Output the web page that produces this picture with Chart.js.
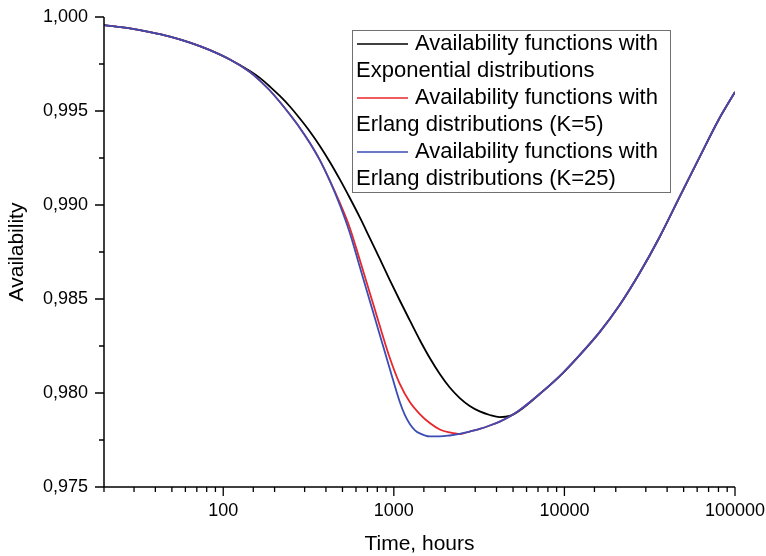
<!DOCTYPE html>
<html><head><meta charset="utf-8">
<script src="https://cdn.jsdelivr.net/npm/chart.js@4/dist/chart.umd.min.js"></script>
<style>html,body{margin:0;padding:0;background:#fff;}</style>
</head><body>
<canvas id="c" width="766" height="556"></canvas>
<script>
// ---- Data ----
const seriesLabels = [
  ['Availability functions with', 'Exponential distributions'],
  ['Availability functions with', 'Erlang distributions (K=5)'],
  ['Availability functions with', 'Erlang distributions (K=25)']
];
const seriesColors = ['#000000', '#e8262b', '#3b4db5'];

const timeExp = [20, 28.4, 37.2, 48.7, 63.8, 83.6, 109.4, 143.3, 164, 187.7, 214.8, 245.9, 281.3, 322, 368.5, 421.7, 482.6, 552.3, 632.1, 723.4, 827.9, 947.5, 1084, 1241, 1420, 1625, 1860, 2128, 2436, 2787, 3190, 3651, 4178, 4782, 5472, 7165, 9384, 12289, 16095, 21083, 27606, 36157, 47356, 62007, 81215, 100000];
const availExp = [0.99957, 0.99939, 0.99920, 0.99896, 0.99864, 0.99824, 0.99774, 0.99713, 0.99676, 0.99630, 0.99580, 0.99524, 0.99460, 0.99391, 0.99314, 0.99229, 0.99136, 0.99037, 0.98934, 0.98824, 0.98713, 0.98601, 0.98492, 0.98386, 0.98282, 0.98186, 0.98101, 0.98029, 0.97973, 0.97931, 0.97902, 0.97883, 0.97872, 0.97878, 0.97907, 0.97995, 0.98090, 0.98202, 0.98324, 0.98468, 0.98638, 0.98830, 0.99043, 0.99255, 0.99463, 0.99601];

const timeK5 = [20, 28.4, 37.2, 48.7, 63.8, 83.6, 109.4, 143.3, 164, 187.7, 214.8, 245.9, 281.3, 322, 368.5, 421.7, 482.6, 552.3, 632.1, 723.4, 827.9, 947.5, 1084, 1241, 1420, 1625, 1860, 2128, 2436, 2787, 3190, 3651, 4178, 4782, 5472, 7165, 9384, 12289, 16095, 21083, 27606, 36157, 47356, 62007, 81215, 100000];
const availK5 = [0.99957, 0.99939, 0.99920, 0.99896, 0.99864, 0.99824, 0.99774, 0.99707, 0.99662, 0.99609, 0.99548, 0.99481, 0.99410, 0.99330, 0.99239, 0.99130, 0.99011, 0.98878, 0.98707, 0.98532, 0.98356, 0.98186, 0.98048, 0.97952, 0.97888, 0.97840, 0.97806, 0.97790, 0.97782, 0.97795, 0.97809, 0.97827, 0.97848, 0.97875, 0.97910, 0.97995, 0.98090, 0.98202, 0.98324, 0.98468, 0.98638, 0.98830, 0.99043, 0.99255, 0.99463, 0.99601];

const timeK25 = [20, 28.4, 37.2, 48.7, 63.8, 83.6, 109.4, 143.3, 164, 187.7, 214.8, 245.9, 281.3, 322, 368.5, 421.7, 482.6, 552.3, 632.1, 723.4, 827.9, 947.5, 1084, 1160, 1241, 1327, 1420, 1625, 1860, 2128, 2436, 2787, 3190, 3651, 4178, 4782, 5472, 7165, 9384, 12289, 16095, 21083, 27606, 36157, 47356, 62007, 81215, 100000];
const availK25 = [0.99957, 0.99939, 0.99920, 0.99896, 0.99864, 0.99824, 0.99774, 0.99707, 0.99662, 0.99609, 0.99548, 0.99481, 0.99410, 0.99330, 0.99239, 0.99128, 0.99000, 0.98851, 0.98670, 0.98489, 0.98309, 0.98128, 0.97952, 0.97883, 0.97835, 0.97803, 0.97785, 0.97769, 0.97769, 0.97774, 0.97782, 0.97795, 0.97809, 0.97827, 0.97848, 0.97875, 0.97910, 0.97995, 0.98090, 0.98202, 0.98324, 0.98468, 0.98638, 0.98830, 0.99043, 0.99255, 0.99463, 0.99601];

const xMin = 20, xMax = 100000;
const yMin = 0.975, yMax = 1.000, yStep = 0.005;
const xTitle = 'Time, hours';
const yTitle = 'Availability';

// ---- Helpers ----
const FONT = '"Liberation Sans", Arial, Helvetica, sans-serif';
const toPts = (ts, vs) => ts.map((t, i) => ({x: t, y: vs[i]}));
const isPow10 = v => { const l = Math.log10(v); return Math.abs(l - Math.round(l)) < 1e-9; };

const axesPlugin = {
  id: 'axesTicks',
  afterDatasetsDraw(chart) {
    const {ctx, chartArea: a, scales: {x, y}} = chart;
    ctx.save();
    ctx.strokeStyle = '#000';
    ctx.lineWidth = 1.5;
    ctx.beginPath();
    ctx.moveTo(a.left, a.top);
    ctx.lineTo(a.left, a.bottom);
    ctx.lineTo(a.right, a.bottom);
    ctx.stroke();
    ctx.lineWidth = 1.3;
    ctx.beginPath();
    x.ticks.forEach(t => {
      const px = x.getPixelForValue(t.value);
      const len = isPow10(t.value) ? 9 : 5;
      ctx.moveTo(px, a.bottom); ctx.lineTo(px, a.bottom + len);
    });
    const yt = y.ticks.map(t => t.value);
    yt.forEach((v, i) => {
      const py = y.getPixelForValue(v);
      ctx.moveTo(a.left, py); ctx.lineTo(a.left - 9, py);
      if (i < yt.length - 1) {
        const pm = y.getPixelForValue((v + yt[i + 1]) / 2);
        ctx.moveTo(a.left, pm); ctx.lineTo(a.left - 5, pm);
      }
    });
    ctx.stroke();
    ctx.restore();
  }
};

const legendPlugin = {
  id: 'boxLegend',
  afterDraw(chart) {
    const ctx = chart.ctx;
    const x0 = 352, y0 = 30, w = 318, h = 162, row = 27;
    ctx.save();
    ctx.fillStyle = '#fff';
    ctx.fillRect(x0, y0, w, h);
    ctx.strokeStyle = '#707070';
    ctx.lineWidth = 1;
    ctx.strokeRect(x0 + 0.5, y0 + 0.5, w, h);
    ctx.font = '22px ' + FONT;
    ctx.textBaseline = 'middle';
    ctx.textAlign = 'left';
    chart.data.datasets.forEach((ds, i) => {
      const yA = y0 + 14 + row * 2 * i;
      const yB = yA + row;
      ctx.strokeStyle = ds.borderColor;
      ctx.lineWidth = 1.5;
      ctx.beginPath(); ctx.moveTo(357, yA); ctx.lineTo(408, yA); ctx.stroke();
      ctx.fillStyle = '#000';
      ctx.fillText(ds.label[0], 415, yA);
      ctx.fillText(ds.label[1], 356, yB);
    });
    ctx.restore();
  }
};

const datasets = [
  {label: seriesLabels[0], data: toPts(timeExp, availExp), borderColor: seriesColors[0], order: 2},
  {label: seriesLabels[1], data: toPts(timeK5, availK5), borderColor: seriesColors[1], order: 1},
  {label: seriesLabels[2], data: toPts(timeK25, availK25), borderColor: seriesColors[2], order: 0}
];

new Chart(document.getElementById('c'), {
  type: 'line',
  data: {datasets},
  plugins: [axesPlugin, legendPlugin],
  options: {
    responsive: false,
    animation: false,
    layout: {padding: {top: 17, right: 31, left: 0, bottom: 0}},
    plugins: {legend: {display: false}, tooltip: {enabled: false}},
    elements: {
      point: {radius: 0},
      line: {borderWidth: 1.8, cubicInterpolationMode: 'monotone', fill: false}
    },
    scales: {
      x: {
        type: 'logarithmic', min: xMin, max: xMax,
        grid: {display: false, drawTicks: true, tickLength: 9},
        border: {display: false},
        ticks: {
          autoSkip: false, maxRotation: 0, minRotation: 0, padding: 4, color: '#000',
          font: {family: FONT, size: 18},
          callback: v => isPow10(v) ? String(Math.round(v)) : ''
        },
        title: {display: true, text: xTitle, color: '#000', font: {family: FONT, size: 21, lineHeight: 1}, padding: {top: 0, bottom: 1}},
        afterFit: s => { s.height = 69; s.paddingLeft = 0; s.paddingRight = 0; }
      },
      y: {
        type: 'linear', min: yMin, max: yMax,
        grid: {display: false, drawTicks: true, tickLength: 9},
        border: {display: false},
        ticks: {
          stepSize: yStep, padding: 7, color: '#000',
          font: {family: FONT, size: 18},
          callback: v => v.toFixed(3).replace('.', ',')
        },
        title: {display: true, text: yTitle, color: '#000', font: {family: FONT, size: 21, lineHeight: 1}, padding: {top: 7, bottom: 0}},
        afterFit: s => { s.width = 104; s.paddingTop = 0; s.paddingBottom = 0; }
      }
    }
  }
});
</script>
</body></html>
